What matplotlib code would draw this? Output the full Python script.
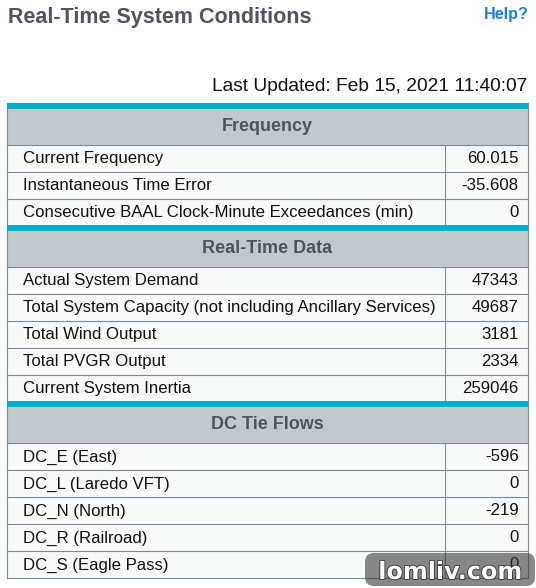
import matplotlib
matplotlib.use('Agg')
import matplotlib.pyplot as plt
from matplotlib.patches import Rectangle, FancyBboxPatch
import matplotlib.patheffects as pe

plt.rcParams['font.family'] = ['Liberation Sans', 'DejaVu Sans']

sections = ['Frequency', 'Real-Time Data', 'DC Tie Flows']

frequency_labels = ['Current Frequency', 'Instantaneous Time Error',
                    'Consecutive BAAL Clock-Minute Exceedances (min)']
frequency_values = ['60.015', '-35.608', '0']

realtime_labels = ['Actual System Demand',
                   'Total System Capacity (not including Ancillary Services)',
                   'Total Wind Output', 'Total PVGR Output', 'Current System Inertia']
realtime_values = ['47343', '49687', '3181', '2334', '259046']

dc_labels = ['DC_E (East)', 'DC_L (Laredo VFT)', 'DC_N (North)',
             'DC_R (Railroad)', 'DC_S (Eagle Pass)']
dc_values = ['-596', '0', '-219', '0', '0']

rows = [(frequency_labels, frequency_values),
        (realtime_labels, realtime_values),
        (dc_labels, dc_values)]

teal = '#00aec7'
head_bg = '#c2c8cb'
row_bg = '#f8f9f9'
line = '#7b8a97'
head_text = '#4d5560'

fig = plt.figure(figsize=(5.36, 5.88), dpi=100)
ax = fig.add_axes([0, 0, 1, 1])
ax.set_xlim(0, 536)
ax.set_ylim(588, 0)
ax.axis('off')

ax.text(7.5, 23.5, 'Real-Time System Conditions', fontsize=15.5, fontweight='bold',
        color=head_text, va='baseline', ha='left')
ax.text(528.5, 19, 'Help?', fontsize=11.6, fontweight='bold', color='#1a7fe0',
        va='baseline', ha='right')
ax.text(527.5, 91, 'Last Updated: Feb 15, 2021 11:40:07', fontsize=13.8,
        color='#111111', va='baseline', ha='right')

left, right, divider = 7.0, 527.5, 445.0
y = 103
top = y
for name, (labels, values) in zip(sections, rows):
    ax.add_patch(Rectangle((left, y), right - left, 41.5, fc=head_bg, ec='none'))
    ax.add_patch(Rectangle((left - 0.5, y), right - left + 1, 6, fc=teal, ec='none', zorder=4))
    ax.text((left + right) / 2, y + 28.4, name, fontsize=13, fontweight='bold',
            color=head_text, ha='center', va='baseline')
    y += 41.5
    ax.plot([left, right], [y, y], color=line, lw=0.8)
    for lab, val in zip(labels, values):
        ax.add_patch(Rectangle((left, y), right - left, 27, fc=row_bg, ec='none'))
        ax.text(23, y + 18.9, lab, fontsize=12.05, color='#111111', ha='left', va='baseline')
        ax.text(518.5, y + 18.9, val, fontsize=12.05, color='#111111', ha='right', va='baseline')
        ax.plot([left, right], [y + 27, y + 27], color=line, lw=0.8)
        ax.plot([divider, divider], [y, y + 27], color=line, lw=0.8)
        y += 27
    y -= 0.5

ax.plot([left, left], [top, y + 0.5], color=line, lw=0.8, zorder=3)
ax.plot([right, right], [top, y + 0.5], color=line, lw=0.8, zorder=3)

# watermark
ax.add_patch(FancyBboxPatch((365, 553), 170, 33, boxstyle='round,pad=0,rounding_size=9',
                            fc='#333333', ec='none', alpha=0.58, zorder=5))
ax.text(450, 579, 'lomliv.com', fontsize=17.2, fontweight='bold', family='DejaVu Sans',
        color='white', ha='center', va='baseline', zorder=6,
        path_effects=[pe.withStroke(linewidth=1.2, foreground='#333333')])

fig.savefig('out.png', dpi=100)
